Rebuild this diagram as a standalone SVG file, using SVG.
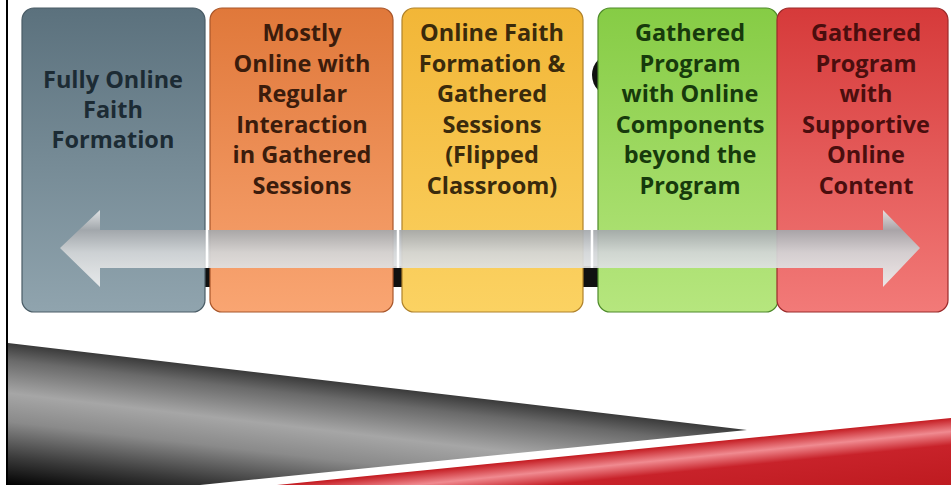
<svg xmlns="http://www.w3.org/2000/svg" width="951" height="485" viewBox="0 0 951 485">
<defs>
<linearGradient id="g1" x1="0" y1="0" x2="0" y2="1"><stop offset="0" stop-color="#5b717d"/><stop offset="1" stop-color="#90a4ae"/></linearGradient>
<linearGradient id="g2" x1="0" y1="0" x2="0" y2="1"><stop offset="0" stop-color="#e0783a"/><stop offset="1" stop-color="#f9a572"/></linearGradient>
<linearGradient id="g3" x1="0" y1="0" x2="0" y2="1"><stop offset="0" stop-color="#f2b637"/><stop offset="1" stop-color="#fbd262"/></linearGradient>
<linearGradient id="g4" x1="0" y1="0" x2="0" y2="1"><stop offset="0" stop-color="#86cc45"/><stop offset="1" stop-color="#b6e67e"/></linearGradient>
<linearGradient id="g5" x1="0" y1="0" x2="0" y2="1"><stop offset="0" stop-color="#d63a3a"/><stop offset="1" stop-color="#f27a78"/></linearGradient>
<linearGradient id="ga" x1="0" y1="210" x2="0" y2="287" gradientUnits="userSpaceOnUse"><stop offset="0" stop-color="#e6e8e9"/><stop offset="0.26" stop-color="#a4a8ac"/><stop offset="0.55" stop-color="#d2d5d7"/><stop offset="0.75" stop-color="#dfe1e2"/><stop offset="1" stop-color="#eceeef"/></linearGradient>
<linearGradient id="gw" x1="0" y1="343" x2="0" y2="485" gradientUnits="userSpaceOnUse" gradientTransform="rotate(6.7 8 343)"><stop offset="0" stop-color="#3a3a3a"/><stop offset="0.12" stop-color="#6a6a6a"/><stop offset="0.35" stop-color="#a6a6a6"/><stop offset="0.55" stop-color="#8a8a8a"/><stop offset="0.8" stop-color="#3a3a3a"/><stop offset="1" stop-color="#000000"/></linearGradient>
<linearGradient id="gr" x1="0" y1="418" x2="0" y2="485" gradientUnits="userSpaceOnUse" gradientTransform="rotate(-5.7 951 418)"><stop offset="0" stop-color="#c41c22"/><stop offset="0.2" stop-color="#f08a90"/><stop offset="0.4" stop-color="#c8222a"/><stop offset="1" stop-color="#be1b20"/></linearGradient>
<style>
.box{stroke-width:1.2}
.t{font-family:"Open Sans","Liberation Sans",sans-serif;font-weight:bold;font-size:23.5px;text-anchor:middle}
</style>
</defs>
<rect width="951" height="485" fill="#ffffff"/>
<line x1="7" y1="0" x2="7" y2="485" stroke="#000" stroke-width="2"/>
<g id="backdrop">
<rect x="200" y="266" width="402" height="21" fill="#111"/>
<circle cx="614" cy="75" r="22" fill="#111"/>
</g>
<g id="box1">
<rect class="box" x="22" y="8" width="183" height="304" rx="12" fill="url(#g1)" stroke="#4a5c66"/>
<text class="t" fill="#1c2b34"><tspan x="113" y="88">Fully Online</tspan><tspan x="113" y="118">Faith</tspan><tspan x="113" y="148">Formation</tspan></text>
</g>
<g id="box2">
<rect class="box" x="210" y="8" width="183" height="304" rx="12" fill="url(#g2)" stroke="#a8562a"/>
<text class="t" fill="#3b1c0c"><tspan x="302" y="41">Mostly</tspan><tspan x="302" y="72">Online with</tspan><tspan x="302" y="102">Regular</tspan><tspan x="302" y="133">Interaction</tspan><tspan x="302" y="163">in Gathered</tspan><tspan x="302" y="194">Sessions</tspan></text>
</g>
<g id="box3">
<rect class="box" x="402" y="8" width="181" height="304" rx="12" fill="url(#g3)" stroke="#b0822a"/>
<text class="t" fill="#3a2a0c"><tspan x="492" y="41">Online Faith</tspan><tspan x="492" y="72">Formation &amp;</tspan><tspan x="492" y="102">Gathered</tspan><tspan x="492" y="133">Sessions</tspan><tspan x="492" y="163">(Flipped</tspan><tspan x="492" y="194">Classroom)</tspan></text>
</g>
<g id="box4">
<rect class="box" x="598" y="8" width="180" height="304" rx="12" fill="url(#g4)" stroke="#4e8a2a"/>
<text class="t" fill="#173a0c"><tspan x="690" y="41">Gathered</tspan><tspan x="690" y="72">Program</tspan><tspan x="690" y="102">with Online</tspan><tspan x="690" y="133">Components</tspan><tspan x="690" y="163">beyond the</tspan><tspan x="690" y="194">Program</tspan></text>
</g>
<g id="box5">
<rect class="box" x="777" y="8" width="171" height="304" rx="12" fill="url(#g5)" stroke="#9a2a2a"/>
<text class="t" fill="#4a0e0e"><tspan x="866" y="41">Gathered</tspan><tspan x="866" y="72">Program</tspan><tspan x="866" y="102">with</tspan><tspan x="866" y="133">Supportive</tspan><tspan x="866" y="163">Online</tspan><tspan x="866" y="194">Content</tspan></text>
</g>
<g id="connectors">
<path d="M60,248 L100,210 L100,230 L883,230 L883,210 L920,248 L883,287 L883,268 L100,268 L100,287 Z" fill="url(#ga)" fill-opacity="0.93"/>
<g stroke="#ffffff" stroke-width="2.5">
<line x1="207" y1="230" x2="207" y2="268"/>
<line x1="398" y1="230" x2="398" y2="268"/>
<line x1="592" y1="230" x2="592" y2="268"/>
</g>
</g>
<g id="wedge">
<polygon points="8,343 747,430 200,485 8,485" fill="url(#gw)"/>
<polygon points="277,485 951,418 951,485" fill="url(#gr)"/>
</g>
</svg>
